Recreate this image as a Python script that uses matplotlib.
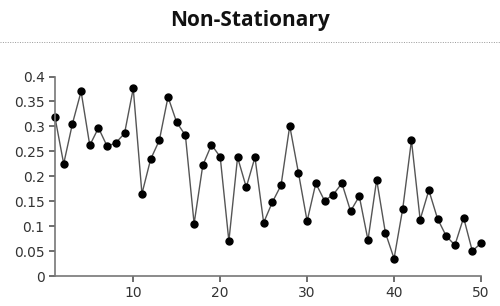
import matplotlib
matplotlib.use('Agg')
import matplotlib.pyplot as plt
from matplotlib.lines import Line2D

# series values
x = list(range(1, 51))
y = [0.318, 0.225, 0.305, 0.370, 0.262, 0.297, 0.260, 0.267, 0.286, 0.376,
     0.165, 0.234, 0.272, 0.359, 0.308, 0.282, 0.105, 0.222, 0.263, 0.239,
     0.070, 0.238, 0.178, 0.238, 0.107, 0.148, 0.182, 0.301, 0.207, 0.110,
     0.186, 0.151, 0.163, 0.186, 0.130, 0.160, 0.072, 0.193, 0.087, 0.035,
     0.135, 0.272, 0.113, 0.172, 0.115, 0.080, 0.062, 0.117, 0.050, 0.066]
xticks = [10, 20, 30, 40, 50]
yticks = [0, 0.05, 0.1, 0.15, 0.2, 0.25, 0.3, 0.35, 0.4]
ylabels = ['0', '0.05', '0.1', '0.15', '0.2', '0.25', '0.3', '0.35', '0.4']
title = 'Non-Stationary'

fig = plt.figure(figsize=(5, 3.06), dpi=100)
ax = fig.add_axes([0.11, 0.098, 0.852, 0.652])

ax.plot(x, y, color='#555555', lw=1, marker='o', ms=5,
        markerfacecolor='black', markeredgecolor='black', clip_on=False)

ax.set_xlim(1, 50)
ax.set_ylim(0, 0.4)
ax.set_xticks(xticks)
ax.set_yticks(yticks)
ax.set_yticklabels(ylabels)
ax.tick_params(colors='#555555', labelcolor='#333333', labelsize=10,
               length=4, width=1.2)

for side in ['top', 'right']:
    ax.spines[side].set_visible(False)
for side in ['left', 'bottom']:
    ax.spines[side].set_color('#777777')
    ax.spines[side].set_linewidth(1.2)

fig.text(0.5, 0.933, title, ha='center', va='center', fontsize=15,
         fontweight='bold', family='Open Sans', color='#111111')
fig.add_artist(Line2D([0.0, 1.0], [0.862, 0.862], transform=fig.transFigure,
                      color='#999999', lw=0.7, linestyle=(0, (1, 1.5))))

fig.savefig('out.png', dpi=100)
